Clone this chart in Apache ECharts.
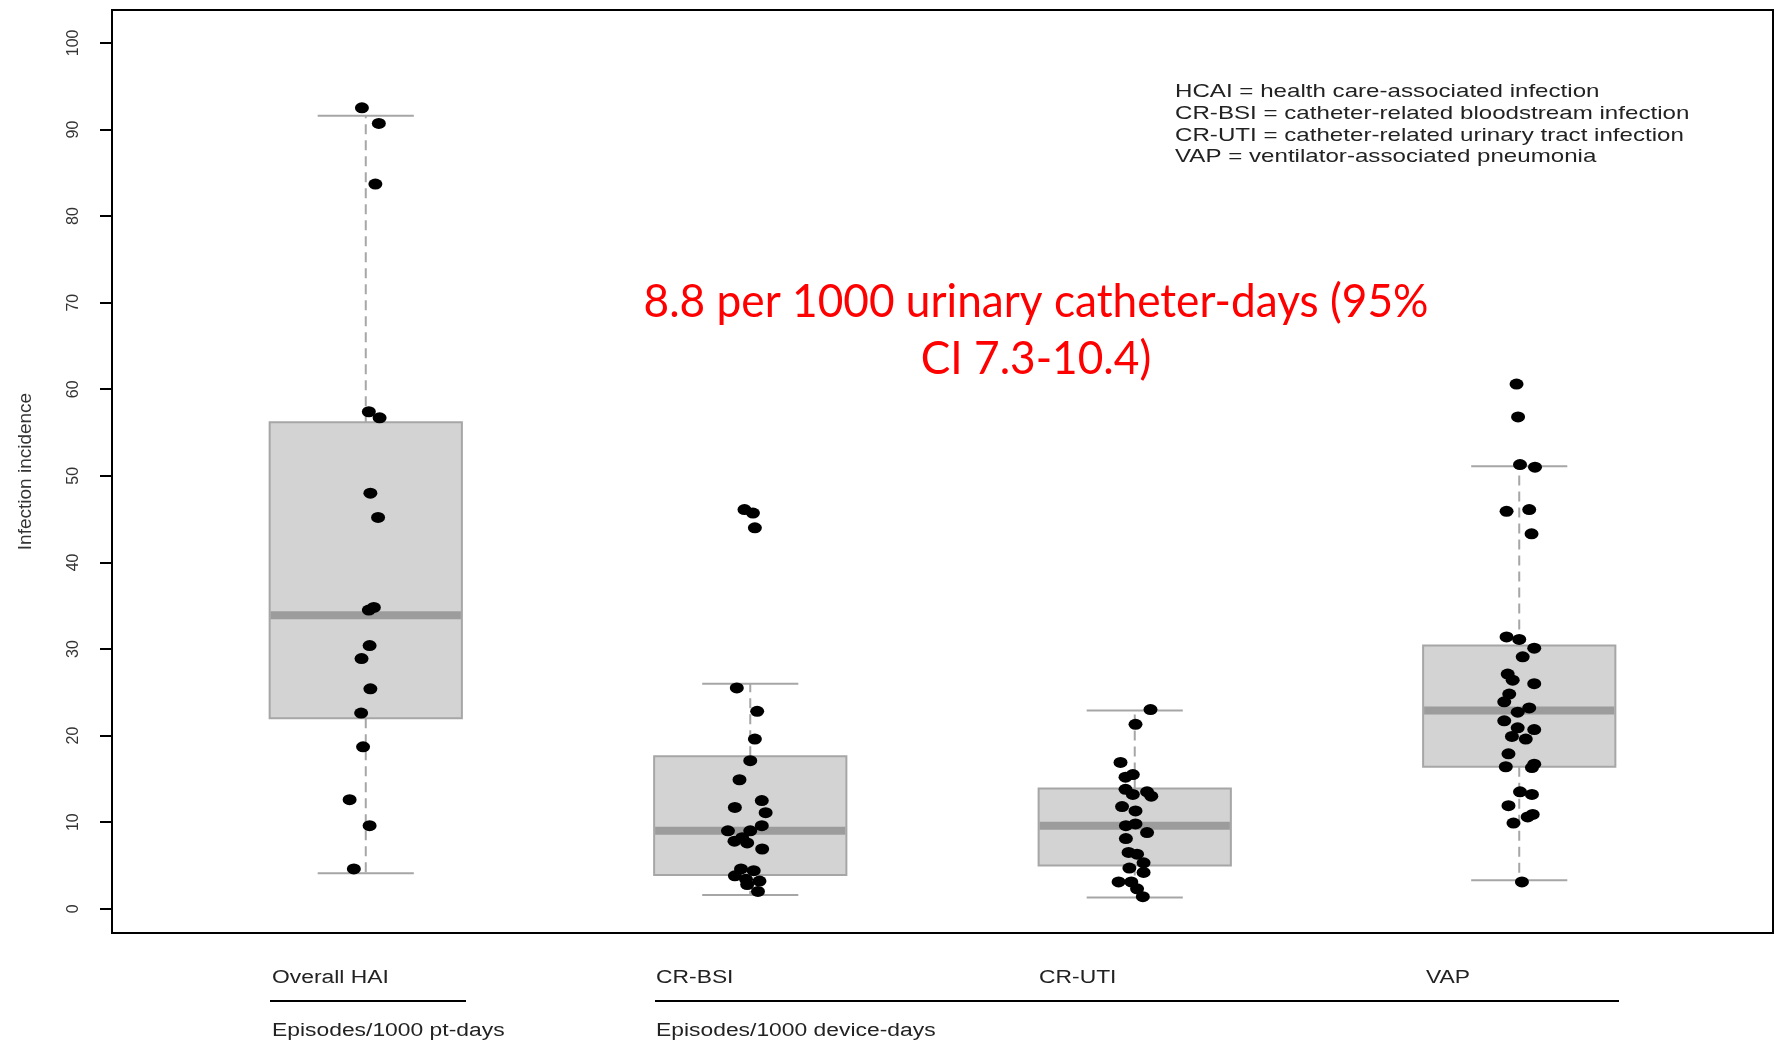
<!DOCTYPE html>
<html><head><meta charset="utf-8">
<script src="https://cdn.jsdelivr.net/npm/echarts@6/dist/echarts.min.js"></script>
<style>html,body{margin:0;padding:0;background:#fff}#c{width:1779px;height:1043px}</style>
</head><body><div id="c"></div>
<script>
// ---- data ----
const categories = ['Overall HAI', 'CR-BSI', 'CR-UTI', 'VAP'];
const groupNotes = ['Episodes/1000 pt-days', 'Episodes/1000 device-days'];
const yTicks = [0, 10, 20, 30, 40, 50, 60, 70, 80, 90, 100];
const yTitle = 'Infection incidence';
const legendLines = [
  'HCAI = health care-associated infection',
  'CR-BSI = catheter-related bloodstream infection',
  'CR-UTI = catheter-related urinary tract infection',
  'VAP = ventilator-associated pneumonia'
];
const annotation = ['8.8 per 1000 urinary catheter-days (95%', 'CI 7.3-10.4)'];

// box statistics: lower whisker, Q1, median, Q3, upper whisker
const whiskerLow = [4.1, 1.6, 1.3, 3.3];
const quartile1  = [22.0, 3.9, 5.0, 16.4];
const medians    = [33.9, 9.0, 9.6, 22.9];
const quartile3  = [56.2, 17.6, 13.9, 30.4];
const whiskerHigh= [91.6, 26.0, 22.9, 51.1];

// individual points (values) and their horizontal jitter (category units)
const haiValues = [92.5, 90.7, 83.7, 57.4, 56.7, 48.0, 45.2, 34.8, 34.5, 30.4, 28.9, 25.4, 22.6, 18.7, 12.6, 9.6, 4.6];
const haiJitter = [-0.010, 0.034, 0.025, 0.008, 0.036, 0.012, 0.032, 0.021, 0.008, 0.010, -0.011, 0.012, -0.012, -0.007, -0.042, 0.010, -0.031];

const bsiValues = [46.1, 45.7, 44.0, 25.5, 22.8, 19.6, 17.1, 14.9, 12.5, 11.7, 11.1, 9.6, 9.0, 9.0, 8.2, 7.8, 7.6, 6.9, 4.6, 4.4, 3.8, 3.4, 3.2, 2.8, 2.0];
const bsiJitter = [-0.015, 0.007, 0.012, -0.035, 0.018, 0.012, 0.000, -0.028, 0.030, -0.040, 0.040, 0.030, -0.058, 0.000, -0.021, -0.041, -0.008, 0.031, -0.024, 0.009, -0.040, -0.011, 0.024, -0.008, 0.020];

const utiValues = [23.0, 21.3, 16.9, 15.5, 15.2, 13.8, 13.2, 13.5, 13.0, 11.8, 11.3, 9.6, 9.8, 8.8, 8.1, 6.5, 6.3, 5.3, 4.7, 4.2, 3.1, 3.1, 2.3, 1.4];
const utiJitter = [0.041, 0.002, -0.037, -0.005, -0.024, -0.024, -0.005, 0.032, 0.043, -0.033, 0.002, -0.023, 0.002, 0.032, -0.023, -0.016, 0.006, 0.023, -0.014, 0.023, -0.042, -0.009, 0.006, 0.021];

const vapValues = [60.6, 56.8, 51.3, 51.0, 46.1, 45.9, 43.3, 31.4, 31.1, 30.1, 29.1, 27.1, 26.4, 26.0, 24.8, 23.9, 23.2, 22.7, 21.7, 20.9, 20.7, 19.9, 19.6, 17.9, 16.4, 16.7, 16.3, 13.5, 13.2, 11.9, 10.9, 10.6, 9.9, 3.1];
const vapJitter = [-0.007, -0.003, 0.002, 0.041, 0.026, -0.033, 0.032, -0.033, 0.000, 0.039, 0.009, -0.030, -0.017, 0.039, -0.026, -0.039, 0.026, -0.004, -0.039, -0.004, 0.039, -0.019, 0.017, -0.028, -0.035, 0.039, 0.033, 0.002, 0.033, -0.028, 0.035, 0.022, -0.015, 0.007];

// ---- build ----
const groupValues = [haiValues, bsiValues, utiValues, vapValues];
const groupJitter = [haiJitter, bsiJitter, utiJitter, vapJitter];
const boxData = categories.map((c, i) => [i + 1, whiskerLow[i], quartile1[i], medians[i], quartile3[i], whiskerHigh[i]]);
const pointData = [];
groupValues.forEach((vals, i) => vals.forEach((v, k) => pointData.push([i + 1 + groupJitter[i][k], v])));

const BOX_W = 0.5, CAP_W = 0.25;
const boxGray = '#d3d3d3', edgeGray = '#a6a6a6', medGray = '#9c9c9c';

function renderBox(params, api) {
  const x = api.value(0);
  const lo = api.value(1), q1 = api.value(2), md = api.value(3), q3 = api.value(4), hi = api.value(5);
  const pL = api.coord([x - BOX_W / 2, q3]);
  const pR = api.coord([x + BOX_W / 2, q1]);
  const c = api.coord([x, md]);
  const cl = api.coord([x - CAP_W / 2, hi]);
  const cr = api.coord([x + CAP_W / 2, lo]);
  const yHi = api.coord([x, hi])[1], yLo = api.coord([x, lo])[1];
  const yQ1 = pR[1], yQ3 = pL[1];
  const dash = { stroke: edgeGray, lineWidth: 2, lineDash: [10, 6] };
  const solid = { stroke: edgeGray, lineWidth: 2 };
  return {
    type: 'group',
    children: [
      { type: 'line', shape: { x1: c[0], y1: yQ3, x2: c[0], y2: yHi }, style: dash },
      { type: 'line', shape: { x1: c[0], y1: yQ1, x2: c[0], y2: yLo }, style: dash },
      { type: 'line', shape: { x1: cl[0], y1: yHi, x2: cr[0], y2: yHi }, style: solid },
      { type: 'line', shape: { x1: cl[0], y1: yLo, x2: cr[0], y2: yLo }, style: solid },
      { type: 'rect', shape: { x: pL[0], y: yQ3, width: pR[0] - pL[0], height: yQ1 - yQ3 }, style: { fill: boxGray, stroke: edgeGray, lineWidth: 2 } },
      { type: 'line', shape: { x1: pL[0] + 1, y1: c[1], x2: pR[0] - 1, y2: c[1] }, style: { stroke: medGray, lineWidth: 8 } }
    ]
  };
}

const SX = 1.27; // horizontal stretch of the original figure text
const txtFont = 'Liberation Sans, Arial, sans-serif';
const graphics = [];
legendLines.forEach((t, i) => graphics.push({
  type: 'text', x: 1175, y: 91.5 + i * 21.9, scaleX: SX,
  style: { text: t, font: '19px ' + txtFont, fill: '#222', textVerticalAlign: 'middle' }
}));
const labelX = [272, 656, 1039, 1426];
categories.forEach((t, i) => graphics.push({
  type: 'text', x: labelX[i], y: 978, scaleX: SX,
  style: { text: t, font: '18px ' + txtFont, fill: '#222', textVerticalAlign: 'middle' }
}));
graphics.push({ type: 'line', shape: { x1: 270, y1: 1001, x2: 466, y2: 1001 }, style: { stroke: '#000', lineWidth: 2 } });
graphics.push({ type: 'line', shape: { x1: 655, y1: 1001, x2: 1619, y2: 1001 }, style: { stroke: '#000', lineWidth: 2 } });
[272, 656].forEach((x, i) => graphics.push({
  type: 'text', x: x, y: 1031, scaleX: SX,
  style: { text: groupNotes[i], font: '18px ' + txtFont, fill: '#222', textVerticalAlign: 'middle' }
}));
annotation.forEach((t, i) => graphics.push({
  type: 'text', x: 1036, y: 302 + i * 57, scaleX: 0.94,
  style: { text: t, font: '47px Lato, "Open Sans", sans-serif', fill: '#ff0000', textAlign: 'center', textVerticalAlign: 'middle' }
}));

const chart = echarts.init(document.getElementById('c'));
chart.setOption({
  animation: false,
  backgroundColor: '#fff',
  grid: { left: 112, right: 6, top: 10, bottom: 110, show: true, borderColor: '#000', borderWidth: 2, backgroundColor: 'transparent' },
  xAxis: { type: 'value', min: 0.34, max: 4.66, show: false, splitLine: { show: false } },
  yAxis: {
    type: 'value', min: -2.8, max: 103.8,
    name: yTitle, nameLocation: 'middle', nameRotate: 90, nameGap: 77,
    nameTextStyle: { fontFamily: txtFont, fontSize: 19, color: '#333' },
    axisLine: { show: false },
    splitLine: { show: false },
    axisTick: { show: true, customValues: yTicks, length: 12, lineStyle: { color: '#000', width: 2 } },
    axisLabel: { customValues: yTicks, rotate: 90, margin: 30, fontFamily: txtFont, fontSize: 16, color: '#333' }
  },
  series: [
    { type: 'custom', renderItem: renderBox, data: boxData, encode: { x: 0, y: [1, 5] }, z: 2 },
    { type: 'scatter', data: pointData, symbol: 'circle', symbolSize: [14, 11], itemStyle: { color: '#000', opacity: 1 }, z: 3 }
  ],
  graphic: graphics
});
</script></body></html>
